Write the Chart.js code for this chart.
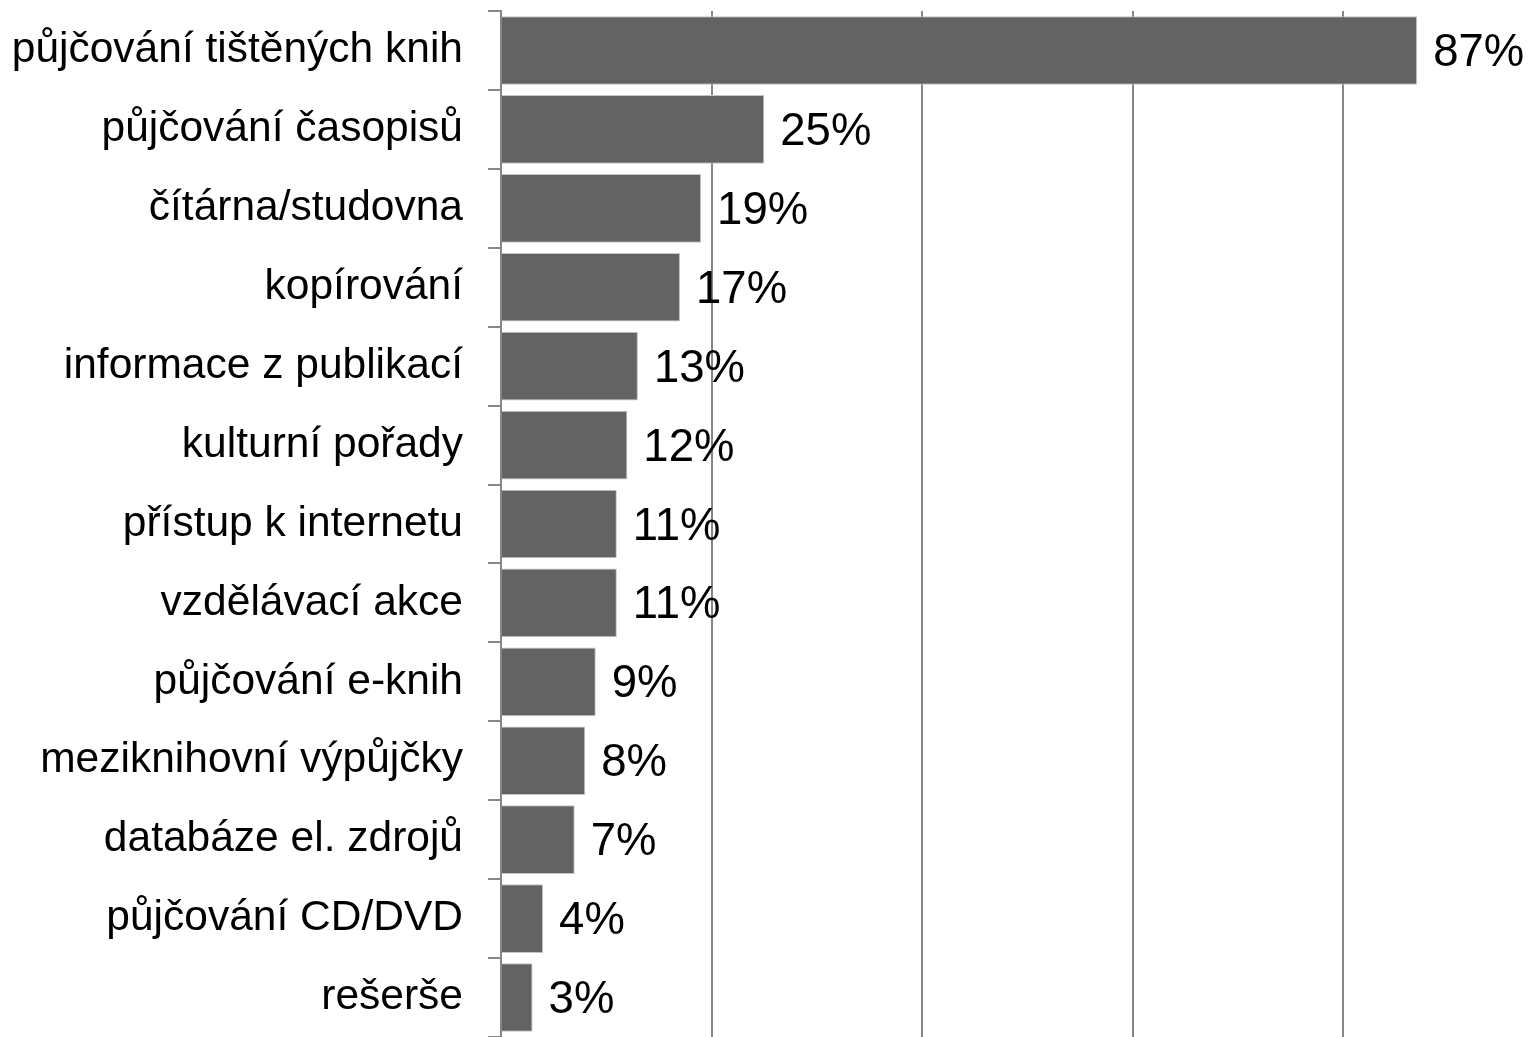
<!DOCTYPE html>
<html>
<head>
<meta charset="utf-8">
<script src="https://cdn.jsdelivr.net/npm/chart.js@4/dist/chart.umd.min.js"></script>
<style>
    body { margin: 0; background: #fff; }
    #wrap { width: 1533px; height: 1037px; }
</style>
</head>
<body>
<div id="wrap"><canvas id="chart"></canvas></div>
<script>
// Data
var categories = [
    'půjčování tištěných knih',
    'půjčování časopisů',
    'čítárna/studovna',
    'kopírování',
    'informace z publikací',
    'kulturní pořady',
    'přístup k internetu',
    'vzdělávací akce',
    'půjčování e-knih',
    'meziknihovní výpůjčky',
    'databáze el. zdrojů',
    'půjčování CD/DVD',
    'rešerše'
];
var values = [87, 25, 19, 17, 13, 12, 11, 11, 9, 8, 7, 4, 3];
var gridTicks = [0, 20, 40, 60, 80];

var fontFamily = '"Liberation Sans", Arial, sans-serif';

// Draw the percentage next to each bar
var valueLabels = {
    id: 'valueLabels',
    afterDatasetsDraw: function (chart) {
        var ctx = chart.ctx;
        var meta = chart.getDatasetMeta(0);
        ctx.save();
        ctx.font = '45.5px ' + fontFamily;
        ctx.fillStyle = '#000';
        ctx.textAlign = 'left';
        ctx.textBaseline = 'middle';
        meta.data.forEach(function (bar, i) {
            ctx.fillText(values[i] + '%', bar.x + 16, bar.y + 3);
        });
        ctx.restore();
    }
};

new Chart(document.getElementById('chart'), {
    type: 'bar',
    data: {
        labels: categories,
        datasets: [{
            data: values,
            backgroundColor: '#636363',
            borderColor: '#c4c4c4',
            borderWidth: 1,
            barPercentage: 0.87,
            categoryPercentage: 1
        }]
    },
    options: {
        indexAxis: 'y',
        responsive: true,
        maintainAspectRatio: false,
        animation: false,
        layout: { padding: { top: 11, right: 0, bottom: 0, left: 0 } },
        plugins: {
            legend: { display: false },
            tooltip: { enabled: false }
        },
        scales: {
            x: {
                min: 0,
                max: 98,
                afterBuildTicks: function (axis) {
                    axis.ticks = gridTicks.map(function (v) { return { value: v }; });
                },
                ticks: { display: false },
                grid: { color: '#868686', lineWidth: 2, drawTicks: false },
                border: { display: false }
            },
            y: {
                afterFit: function (scale) {
                    scale.width = 501;
                    scale.paddingTop = 0;
                    scale.paddingBottom = 0;
                },
                ticks: {
                    color: '#000',
                    padding: 25,
                    font: { family: fontFamily, size: 42.5 }
                },
                grid: {
                    offset: true,
                    drawOnChartArea: false,
                    drawTicks: true,
                    tickLength: 13,
                    color: '#868686',
                    lineWidth: 2
                },
                border: { display: true, color: '#868686', width: 2 }
            }
        }
    },
    plugins: [valueLabels]
});
</script>
</body>
</html>
